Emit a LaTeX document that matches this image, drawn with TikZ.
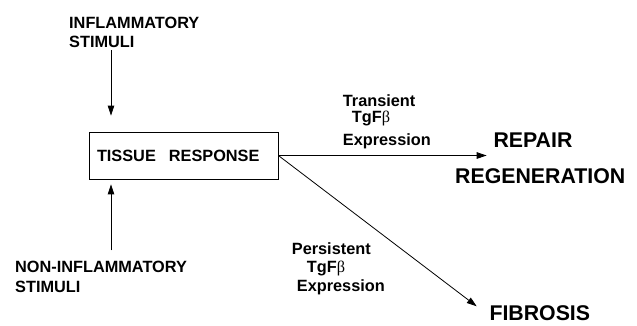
\documentclass[tikz,border=0pt]{standalone}
\usepackage{fontspec}
\setmainfont{Liberation Sans}
\newfontfamily\betafont{Liberation Serif}
\usetikzlibrary{arrows.meta}
\begin{document}
\begin{tikzpicture}[x=1pt,y=-1pt,
  small/.style={font=\fontsize{16.3}{18}\selectfont\bfseries, inner sep=0pt, anchor=base west},
  big/.style={font=\fontsize{21.3}{24}\selectfont\bfseries, inner sep=0pt, anchor=base west},
  arr/.style={line width=0.8pt, -{Triangle[length=10pt,width=6.5pt]}},
  boxst/.style={draw, line width=0.75pt, minimum width=189pt, minimum height=47pt,
    inner xsep=8pt, text width=173pt, align=left,
    font=\fontsize{16.3}{18}\selectfont\bfseries}]
\useasboundingbox (0,0) rectangle (637,325);
\node[boxst] (box) at (183.5,155.5) {TISSUE\hspace{13pt}RESPONSE};
\node[small] (infA) at (69,28) {INFLAMMATORY};
\node[small] (infB) at (69,47) {STIMULI};
\node[small] (ninfA) at (15,272) {NON-INFLAMMATORY};
\node[small] (ninfB) at (15,292) {STIMULI};
\node[small] (tr1) at (342.7,106) {Transient};
\node[small] (tr2) at (351.7,122.5) {TgF{\betafont\mdseries β}};
\node[small] (tr3) at (342.7,145) {Expression};
\node[small] (pe1) at (291.7,254) {Persistent};
\node[small] (pe2) at (306.7,272) {TgF{\betafont\mdseries β}};
\node[small] (pe3) at (296.7,291.5) {Expression};
\node[big] (repair) at (493.3,147.3) {REPAIR};
\node[big] (regen) at (455,183.3) {REGENERATION};
\node[big] (fib) at (489.3,320.3) {FIBROSIS};
\coordinate (ax) at (111,0);
\coordinate (ftip) at (476.7,306.3);
\draw[arr, shorten <=3pt, shorten >=16pt] (infB.south -| ax) -- (box.north -| ax);
\draw[arr, shorten <=10pt, shorten >=5pt] (ninfA.north -| ax) -- (box.south -| ax);
\draw[arr, shorten >=6.6pt] (box.east) -- (box.east -| repair.west);
\draw[arr] (box.east) -- (ftip);
\end{tikzpicture}
\end{document}
